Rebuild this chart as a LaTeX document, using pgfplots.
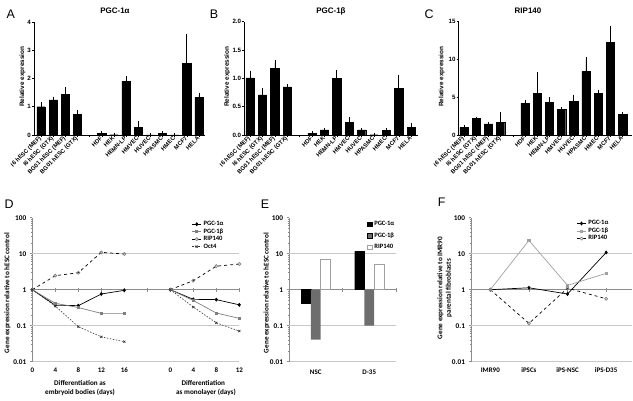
\documentclass[border=0pt]{standalone}
\usepackage{pgfplots}
\pgfplotsset{compat=1.18}
\usepackage{fontspec}
\setmainfont{Carlito}
\newfontfamily\arial{Liberation Sans}
\newcommand\fs[1]{\fontsize{#1}{#1}\selectfont}
\definecolor{gridgray}{HTML}{C8C8C8}
\definecolor{axgray}{HTML}{8C8C8C}
\definecolor{betagray}{HTML}{7F7F7F}
\definecolor{bargray}{HTML}{6E6E6E}
\definecolor{ltgray}{HTML}{A0A0A0}

\pgfplotstableread{
x y e
0 1.00 0.08
1 1.24 0.05
2 1.44 0.18
3 0.73 0.10
5 0.07 0.01
6 0.01 0
7 1.90 0.13
8 0.27 0.14
9 0.00 0
10 0.05 0.01
11 0.00 0
12 2.53 0.99
13 1.33 0.10
}\tabA
\pgfplotstableread{
x y e
0 1.01 0.09
1 0.71 0.08
2 1.18 0.10
3 0.85 0.02
5 0.03 0.005
6 0.09 0.005
7 1.00 0.12
8 0.22 0.06
9 0.09 0
10 0.005 0
11 0.08 0
12 0.82 0.21
13 0.14 0.03
}\tabB
\pgfplotstableread{
x y e
0 1.00 0
1 2.15 0
2 1.45 0
3 1.65 1.05
5 4.17 0.13
6 5.48 2.55
7 4.30 0.44
8 3.38 0
9 4.47 0.57
10 8.33 1.63
11 5.48 0.22
12 12.15 1.97
13 2.76 0
}\tabC

\pgfplotsset{
 prism/.style={scale only axis, anchor=south west, axis x line*=bottom, axis y line*=left,
   ybar, bar width=8.3bp, tick align=outside, major tick length=2bp,
   every tick/.style={black, line width=0.5bp}, axis line style={line width=0.6bp, -},
   yticklabel style={font=\arial\bfseries\fs{6.2}, inner sep=1bp},
   xticklabel style={rotate=45, anchor=east, inner sep=0.6bp, font=\arial\bfseries\fs{5.9}},
   xtick={0,1,2,3,4,5,6,7,8,9,10,11,12,13},
   xticklabels={I6 hESC (MEF), I6 hESC (GTX), BG01 hESC (MEF), BG01 hESC (GTX), {}, HDF, HEK, HEMN-LP, HMVEC, HUVEC, HPASMC, HMEC, MCF7, HELA},
   ymin=0, clip=false,
 },
 pbar/.style={fill=black, draw=black, error bars/.cd, y dir=plus, y explicit,
   error bar style={black, line width=0.6bp}, error mark options={black, mark size=2bp, line width=0.6bp}},
 logpanel/.style={scale only axis, anchor=south west, height=144bp, ymin=0.01, ymax=100,
   axis y line*=left, axis x line*=bottom,
   x axis line style={gridgray, line width=0.6bp, -},
   y axis line style={axgray, line width=0.6bp, -},
   ytick={0.01,0.1,1,10,100}, yticklabels={0.01,0.1,1,10,100},
   minor ytick={0.02,0.03,0.04,0.05,0.06,0.07,0.08,0.09,0.2,0.3,0.4,0.5,0.6,0.7,0.8,0.9,2,3,4,5,6,7,8,9,20,30,40,50,60,70,80,90},
   tick align=outside, major tick length=2.5bp, minor tick length=1.4bp,
   every tick/.style={axgray, line width=0.5bp},
   xtick style={draw=none},
   xticklabel style={font=\bfseries\fs{7}},
   yticklabel style={font=\bfseries\fs{7.3}},
   clip=false,
   legend cell align=left,
   legend style={draw=none, fill=none, font=\bfseries\fs{6.6}, inner sep=0pt, row sep=-2.4bp},
 },
 lleg/.style={legend image code/.code={\draw[mark repeat=2,mark phase=2,##1] plot coordinates {(0bp,0bp) (4.5bp,0bp) (9bp,0bp)};}},
 bleg/.style={legend image code/.code={\draw[##1] (0bp,-2.3bp) rectangle (4.6bp,2.3bp);}},
}

\begin{document}
\begin{tikzpicture}
\path[use as bounding box] (0,0) rectangle (633bp,401bp);

% ---------- A ----------
\begin{axis}[prism, at={(34bp,266bp)}, width=171bp, height=113bp,
  xmin=-0.58, xmax=13.5, ymax=4, ytick={0,1,2,3,4}, yticklabels={0,1,2,3,4}]
\addplot[pbar] table[x=x, y=y, y error=e] {\tabA};
\end{axis}

% ---------- B ----------
\begin{axis}[prism, at={(244.3bp,266bp)}, width=173.7bp, height=113.3bp,
  xmin=-0.46, xmax=13.55, ymax=2, ytick={0,0.5,1,1.5,2}, yticklabels={0.0,0.5,1.0,1.5,2.0}]
\addplot[pbar] table[x=x, y=y, y error=e] {\tabB};
\end{axis}

% ---------- C ----------
\begin{axis}[prism, at={(458.7bp,266bp)}, width=173.3bp, height=114bp,
  xmin=-0.43, xmax=13.77, ymax=15, ytick={0,5,10,15}, yticklabels={0,5,10,15}]
\addplot[pbar] table[x=x, y=y, y error=e] {\tabC};
\end{axis}

% ---------- D ----------
\begin{axis}[ymode=log, logpanel, lleg, at={(32.3bp,39.3bp)}, width=207bp, xmin=0, xmax=36,
  xtick={0,4,8,12,16,24,28,32,36}, xticklabels={0,4,8,12,16,0,4,8,12},
  legend style={at={(0.77,0.99)}, anchor=north west}]
\draw[gridgray, line width=0.6bp] (axis cs:0,10) -- (axis cs:36,10);
\draw[gridgray, line width=0.6bp] (axis cs:0,0.1) -- (axis cs:36,0.1);
\draw[axgray, line width=0.8bp] (axis cs:0,1) -- (axis cs:36,1);
\draw[axgray, line width=0.5bp] (axis cs:4,0.88) -- (axis cs:4,1.14);
\draw[axgray, line width=0.5bp] (axis cs:8,0.88) -- (axis cs:8,1.14);
\draw[axgray, line width=0.5bp] (axis cs:12,0.88) -- (axis cs:12,1.14);
\draw[axgray, line width=0.5bp] (axis cs:16,0.88) -- (axis cs:16,1.14);
\draw[axgray, line width=0.5bp] (axis cs:20,0.88) -- (axis cs:20,1.14);
\draw[axgray, line width=0.5bp] (axis cs:24,0.88) -- (axis cs:24,1.14);
\draw[axgray, line width=0.5bp] (axis cs:28,0.88) -- (axis cs:28,1.14);
\draw[axgray, line width=0.5bp] (axis cs:32,0.88) -- (axis cs:32,1.14);
\draw[axgray, line width=0.5bp] (axis cs:36,0.88) -- (axis cs:36,1.14);
\addplot[black, line width=0.7bp, mark=diamond*, mark size=1.5bp] coordinates {(0,1)(4,0.37)(8,0.36)(12,0.76)(16,0.96)};
\addplot[betagray, line width=0.7bp, mark=square*, mark size=1.1bp] coordinates {(0,1)(4,0.42)(8,0.32)(12,0.22)(16,0.22)};
\addplot[black, dashed, line width=0.7bp, mark=o, mark size=1.5bp, mark options={solid, draw=gray, fill=white}] coordinates {(0,1)(4,2.45)(8,2.96)(12,10.9)(16,9.8)};
\addplot[black!80, dash pattern=on 1.5bp off 1.5bp, line width=0.6bp, mark=x, mark size=1.5bp, mark options={solid}] coordinates {(0,1)(4,0.35)(8,0.094)(12,0.049)(16,0.036)};
\addplot[forget plot, black, line width=0.7bp, mark=diamond*, mark size=1.5bp] coordinates {(24,1)(28,0.54)(32,0.53)(36,0.38)};
\addplot[forget plot, betagray, line width=0.7bp, mark=square*, mark size=1.1bp] coordinates {(24,1)(28,0.5)(32,0.225)(36,0.16)};
\addplot[forget plot, black, dashed, line width=0.7bp, mark=o, mark size=1.5bp, mark options={solid, draw=gray, fill=white}] coordinates {(24,1)(28,1.78)(32,4.5)(36,5.16)};
\addplot[forget plot, black!80, dash pattern=on 1.5bp off 1.5bp, line width=0.6bp, mark=x, mark size=1.5bp, mark options={solid}] coordinates {(24,1)(28,0.33)(32,0.12)(36,0.071)};
\legend{PGC-1α,PGC-1β,RIP140,Oct4}
\end{axis}

% ---------- E ----------
\begin{axis}[ymode=log, logpanel, at={(289bp,39.3bp)}, width=107bp, xmin=-0.5, xmax=1.5,
  ybar=0pt, bar width=9.7bp, log origin y=0, bleg,
  xtick={0,1}, xticklabels={NSC,D-35}, xticklabel style={yshift=-2bp},
  legend style={at={(0.73,0.99)}, anchor=north west, row sep=1.6bp}]
\draw[gridgray, line width=0.6bp] (axis cs:-0.5,10) -- (axis cs:1.5,10);
\draw[gridgray, line width=0.6bp] (axis cs:-0.5,0.1) -- (axis cs:1.5,0.1);
\draw[axgray, line width=0.8bp] (axis cs:-0.5,1) -- (axis cs:1.5,1);
\draw[axgray, line width=0.5bp] (axis cs:0.5,0.88) -- (axis cs:0.5,1.14);
\draw[axgray, line width=0.5bp] (axis cs:1.5,0.88) -- (axis cs:1.5,1.14);
\addplot[fill=black, draw=black] coordinates {(0,0.41) (1,11.6)};
\addplot[fill=bargray, draw=none] coordinates {(0,0.041) (1,0.1)};
\addplot[fill=white, draw=ltgray] coordinates {(0,6.9) (1,5.0)};
\legend{PGC-1α,PGC-1β,RIP140}
\end{axis}

% ---------- F ----------
\begin{axis}[ymode=log, logpanel, lleg, at={(471bp,39.3bp)}, width=161bp, xmin=-0.5, xmax=3.67,
  xtick={0,1,2,3}, xticklabels={IMR90,iPSCs,iPS-NSC,iPS-D35},
  legend style={at={(0.655,0.995)}, anchor=north west}]
\draw[gridgray, line width=0.6bp] (axis cs:-0.5,10) -- (axis cs:3.67,10);
\draw[gridgray, line width=0.6bp] (axis cs:-0.5,0.1) -- (axis cs:3.67,0.1);
\draw[axgray, line width=0.8bp] (axis cs:-0.5,1) -- (axis cs:3.67,1);
\draw[axgray, line width=0.5bp] (axis cs:1,0.88) -- (axis cs:1,1.14);
\draw[axgray, line width=0.5bp] (axis cs:2,0.88) -- (axis cs:2,1.14);
\draw[axgray, line width=0.5bp] (axis cs:3,0.88) -- (axis cs:3,1.14);
\addplot[black, line width=0.7bp, mark=diamond*, mark size=1.5bp] coordinates {(0,1) (1,1.13) (2,0.76) (3,10.8)};
\addplot[ltgray, line width=0.7bp, mark=square*, mark size=1.1bp] coordinates {(0,1) (1,23.4) (2,1.32) (3,2.84)};
\addplot[black, dashed, line width=0.7bp, mark=o, mark size=1.5bp, mark options={solid, draw=gray, fill=white}] coordinates {(0,1) (1,0.116) (2,1.1) (3,0.56)};
\legend{PGC-1α,PGC-1β,RIP140}
\end{axis}

% ---------- text ----------
\begin{scope}[every node/.style={inner sep=0pt}]
\node[font=\arial\fs{12.5}] at (10.8bp,387bp) {A};
\node[font=\arial\fs{12.5}] at (214bp,387bp) {B};
\node[font=\arial\fs{12.5}] at (429bp,387bp) {C};
\node[font=\arial\fs{12.5}] at (9bp,197bp) {D};
\node[font=\arial\fs{12.5}] at (265bp,197bp) {E};
\node[font=\arial\fs{12.5}] at (441.7bp,199bp) {F};
\node[font=\arial\bfseries\fs{8}] at (115bp,390bp) {PGC-1α};
\node[font=\arial\bfseries\fs{8}] at (331bp,390bp) {PGC-1β};
\node[font=\arial\bfseries\fs{8}] at (528bp,390bp) {RIP140};
\node[font=\arial\bfseries\fs{6.4}, rotate=90] at (22.5bp,324.3bp) {Relative expression};
\node[font=\arial\bfseries\fs{6.4}, rotate=90] at (227.2bp,324.3bp) {Relative expression};
\node[font=\arial\bfseries\fs{6.4}, rotate=90] at (441.8bp,324.3bp) {Relative expression};
\node[font=\bfseries\fs{7.2}, rotate=90] at (7.3bp,108bp) {Gene expression relative to hESC control};
\node[font=\bfseries\fs{7.2}, rotate=90] at (266.7bp,108bp) {Gene expression relative to hESC control};
\node[font=\bfseries\fs{7.2}, rotate=90] at (440.5bp,113bp) {Gene expression relative to IMR90};
\node[font=\bfseries\fs{7.2}, rotate=90] at (448.8bp,113bp) {parental fibroblasts};
\node[font=\bfseries\fs{7.2}] at (80bp,18.3bp) {Differentiation as};
\node[font=\bfseries\fs{7.2}] at (80bp,9bp) {embryoid bodies (days)};
\node[font=\bfseries\fs{7.2}] at (203.3bp,18.3bp) {Differentiation};
\node[font=\bfseries\fs{7.2}] at (206bp,9bp) {as monolayer (days)};
\end{scope}
\end{tikzpicture}
\end{document}
